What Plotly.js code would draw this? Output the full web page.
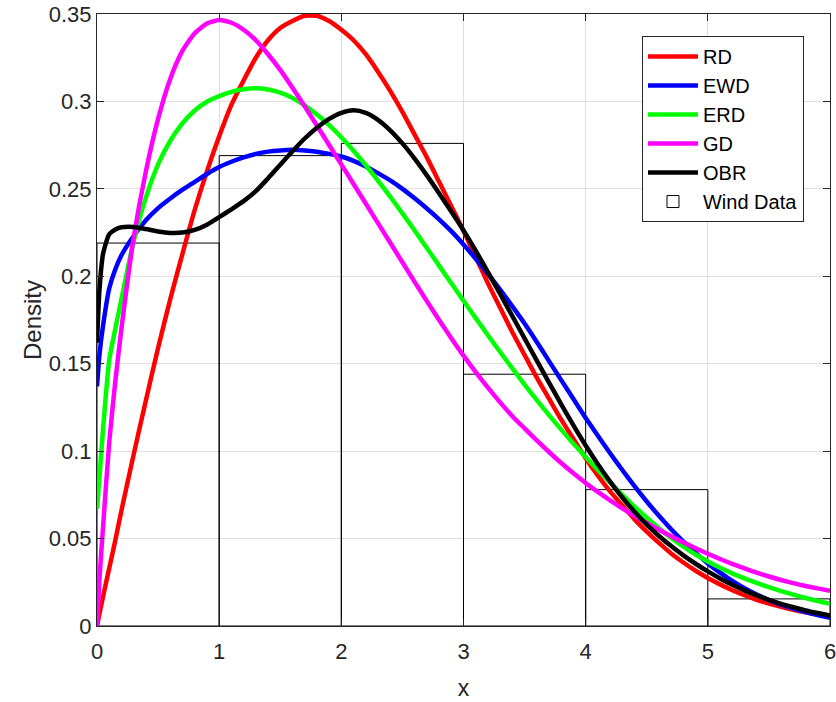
<!DOCTYPE html>
<html>
<head>
<meta charset="utf-8">
<script src="https://cdn.plot.ly/plotly-3.0.1.min.js"></script>
<style>html,body{margin:0;padding:0;background:#fff;}#chart{width:836px;height:702px;}</style>
</head>
<body>
<div id="chart"></div>
<script>
var xs = [0, 0.02, 0.05, 0.1, 0.15, 0.2, 0.3, 0.4, 0.5, 0.6, 0.7, 0.8, 0.9, 1.0,
  1.1, 1.2, 1.3, 1.4, 1.5, 1.6, 1.7, 1.8, 1.9, 2.0, 2.1, 2.2, 2.3, 2.4, 2.5, 2.6, 2.7, 2.8, 2.9, 3.0,
  3.1, 3.2, 3.3, 3.4, 3.5, 3.6, 3.7, 3.8, 3.9, 4.0, 4.1, 4.2, 4.3, 4.4, 4.5, 4.6, 4.7, 4.8, 4.9, 5.0,
  5.1, 5.2, 5.3, 5.4, 5.5, 5.6, 5.7, 5.8, 5.9, 6.0];

var rd = [0, 0.007, 0.017, 0.033, 0.049, 0.066, 0.098, 0.129, 0.159, 0.187, 0.213, 0.238, 0.260, 0.280,
  0.298, 0.312, 0.325, 0.335, 0.342, 0.346, 0.349, 0.349, 0.346, 0.341, 0.335, 0.327, 0.317, 0.306, 0.294, 0.281, 0.268, 0.254, 0.240, 0.226,
  0.211, 0.196, 0.182, 0.168, 0.155, 0.142, 0.130, 0.118, 0.107, 0.096, 0.086, 0.077, 0.069, 0.061, 0.054, 0.0475, 0.0415, 0.0363, 0.0316, 0.0275,
  0.0238, 0.0205, 0.0176, 0.0150, 0.0128, 0.0109, 0.0092, 0.0078, 0.0066, 0.0055];

var ewd = [0.137, 0.155, 0.172, 0.193, 0.204, 0.212, 0.223, 0.232, 0.239, 0.2445, 0.2495, 0.254, 0.2585, 0.2625,
  0.2655, 0.268, 0.270, 0.2713, 0.272, 0.2723, 0.2720, 0.2712, 0.2700, 0.2685, 0.2660, 0.2628, 0.2590, 0.2548, 0.2500, 0.2446, 0.2388, 0.2326, 0.2258, 0.2182,
  0.2100, 0.2014, 0.1924, 0.1828, 0.1730, 0.1624, 0.1515, 0.1406, 0.1298, 0.1190, 0.1088, 0.0988, 0.0892, 0.0800, 0.0712, 0.0630, 0.0553, 0.0483, 0.0418, 0.0358,
  0.0305, 0.0258, 0.0216, 0.0180, 0.0148, 0.0122, 0.0099, 0.0079, 0.0062, 0.0047];

var erd = [0.067, 0.085, 0.113, 0.152, 0.170, 0.187, 0.220, 0.245, 0.264, 0.2775, 0.2875, 0.2948, 0.2998, 0.3030,
  0.3055, 0.3070, 0.3075, 0.3068, 0.3050, 0.3020, 0.2978, 0.2925, 0.2864, 0.2795, 0.2718, 0.2635, 0.2547, 0.2455, 0.2360, 0.2262, 0.2162, 0.2061, 0.1960, 0.1860,
  0.1761, 0.1663, 0.1567, 0.1473, 0.1381, 0.1292, 0.1206, 0.1123, 0.1043, 0.0966, 0.0892, 0.0821, 0.0750, 0.0683, 0.0619, 0.0559, 0.0504, 0.0454, 0.0409, 0.0369,
  0.0333, 0.0301, 0.0272, 0.0246, 0.0222, 0.0200, 0.0179, 0.0160, 0.0143, 0.0127];

var gd = [0, 0.027, 0.057, 0.105, 0.140, 0.170, 0.222, 0.260, 0.290, 0.313, 0.329, 0.339, 0.3445, 0.3465,
  0.345, 0.341, 0.335, 0.327, 0.318, 0.3078, 0.2972, 0.2862, 0.2751, 0.2640, 0.2528, 0.2416, 0.2304, 0.2192, 0.2080, 0.1968, 0.1858, 0.1750, 0.1646, 0.1546,
  0.1452, 0.1363, 0.1279, 0.1200, 0.1130, 0.1061, 0.0995, 0.0932, 0.0873, 0.0818, 0.0767, 0.0719, 0.0673, 0.0630, 0.0589, 0.0550, 0.0513, 0.0478, 0.0445, 0.0413,
  0.0383, 0.0355, 0.0329, 0.0305, 0.0283, 0.0263, 0.0245, 0.0229, 0.0215, 0.0202];

var obr = [0.162, 0.192, 0.213, 0.224, 0.2268, 0.2280, 0.2282, 0.2270, 0.2256, 0.2248, 0.2250, 0.2265, 0.2295, 0.2338,
  0.2383, 0.2430, 0.2487, 0.2560, 0.2638, 0.2715, 0.2788, 0.2850, 0.2900, 0.2935, 0.2950, 0.2935, 0.2895, 0.2835, 0.2760, 0.2673, 0.2577, 0.2475, 0.2370, 0.2262,
  0.2146, 0.2024, 0.1899, 0.1772, 0.1645, 0.1518, 0.1392, 0.1268, 0.1147, 0.1032, 0.0925, 0.0826, 0.0735, 0.0653, 0.0580, 0.0515, 0.0457, 0.0404, 0.0356, 0.0312,
  0.0272, 0.0236, 0.0204, 0.0175, 0.0150, 0.0127, 0.0107, 0.0089, 0.0074, 0.0060];

// histogram of wind data (bin centres and heights)
var binCenters = [0.5, 1.5, 2.5, 3.5, 4.5, 5.5];
var binHeights = [0.219, 0.269, 0.276, 0.144, 0.078, 0.0155];

var yTickVals = [0, 0.05, 0.1, 0.15, 0.2, 0.25, 0.3, 0.35];
var yTickText = ['0', '0.05', '0.1', '0.15', '0.2', '0.25', '0.3', '0.35'];
var xTickVals = [0, 1, 2, 3, 4, 5, 6];

var names = ['RD', 'EWD', 'ERD', 'GD', 'OBR'];
var series = [rd, ewd, erd, gd, obr];
var colors = ['#ff0000', '#0000ff', '#00ff00', '#ff00ff', '#000000'];

var data = [{
  type: 'bar', x: binCenters, y: binHeights, width: 1, name: 'Wind Data',
  marker: {color: 'rgba(255,255,255,0)', line: {color: '#000000', width: 1}},
  legendrank: 6, hoverinfo: 'skip'
}];
for (var i = 0; i < series.length; i++) {
  data.push({
    type: 'scatter', mode: 'lines', x: xs, y: series[i], name: names[i],
    line: {color: colors[i], width: 4.5, shape: 'spline', smoothing: 0.6},
    legendrank: i + 1
  });
}

var axisCommon = {
  showline: true, linecolor: '#262626', linewidth: 1, mirror: 'ticks',
  ticks: 'inside', ticklen: 7, tickcolor: '#262626', tickwidth: 1,
  showgrid: true, gridcolor: '#dfdfdf', gridwidth: 1, zeroline: false,
  tickfont: {family: 'Liberation Sans, Arial, sans-serif', size: 22, color: '#262626'},
  ticklabeloverflow: 'allow', automargin: false
};

var layout = {
  width: 836, height: 702,
  margin: {l: 97, r: 6, t: 14, b: 76},
  paper_bgcolor: '#ffffff', plot_bgcolor: '#ffffff',
  showlegend: true, bargap: 0,
  font: {family: 'Liberation Sans, Arial, sans-serif', color: '#262626'},
  xaxis: Object.assign({}, axisCommon, {
    range: [0, 6], tickvals: xTickVals, ticklabelstandoff: 6,
    title: {text: 'x', font: {size: 23, color: '#262626'}, standoff: 16}
  }),
  yaxis: Object.assign({}, axisCommon, {
    range: [0, 0.35], tickvals: yTickVals, ticktext: yTickText,
    title: {text: 'Density', font: {size: 24, color: '#262626'}, standoff: 0}
  }),
  legend: {
    x: 0.7435, y: 0.964, xanchor: 'left', yanchor: 'top',
    bgcolor: '#ffffff', bordercolor: '#262626', borderwidth: 1,
    font: {size: 20, color: '#000000'}, itemwidth: 50, tracegroupgap: 0
  }
};

Plotly.newPlot('chart', data, layout, {displayModeBar: false, staticPlot: true});
</script>
</body>
</html>
